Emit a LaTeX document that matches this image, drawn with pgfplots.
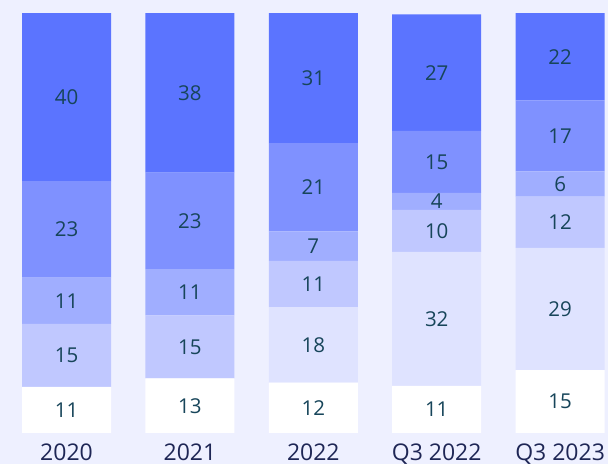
\documentclass[border=0pt]{standalone}
\usepackage{pgfplots}
\usepackage{pgfplotstable}
\pgfplotsset{compat=1.18}
\usepackage{fontspec}
\setmainfont{Open Sans}
\definecolor{bg}{HTML}{EEF0FF}
\definecolor{cA}{HTML}{FFFFFF}
\definecolor{cB}{HTML}{DFE3FF}
\definecolor{cC}{HTML}{C0C8FF}
\definecolor{cD}{HTML}{A0AEFF}
\definecolor{cE}{HTML}{7F91FF}
\definecolor{cF}{HTML}{5B74FF}
\definecolor{valtxt}{HTML}{17455A}
\definecolor{ticktxt}{HTML}{1E2655}
% bar heights (as drawn) and printed labels
\pgfplotstableread{
x a    b    c    d    e    f    la lb lc ld le lf
0 11   0    15   11   23   40   11 0  15 11 23 40
1 13   0    15   11   23   38   13 0  15 11 23 38
2 12   18   11   7    21   31   12 18 11 7  21 31
3 11.2 31.9 10.0 4.05 14.8 27.7 11 32 10 4  15 27
4 15.0 29.1 12.2 6.0  16.9 20.8 15 29 12 6  17 22
}\datatable
\pgfplotstablecreatecol[create col/expr={\thisrow{a}/2}]{ma}\datatable
\pgfplotstablecreatecol[create col/expr={\thisrow{a}+\thisrow{b}/2}]{mb}\datatable
\pgfplotstablecreatecol[create col/expr={\thisrow{a}+\thisrow{b}+\thisrow{c}/2}]{mc}\datatable
\pgfplotstablecreatecol[create col/expr={\thisrow{a}+\thisrow{b}+\thisrow{c}+\thisrow{d}/2}]{md}\datatable
\pgfplotstablecreatecol[create col/expr={\thisrow{a}+\thisrow{b}+\thisrow{c}+\thisrow{d}+\thisrow{e}/2}]{me}\datatable
\pgfplotstablecreatecol[create col/expr={\thisrow{a}+\thisrow{b}+\thisrow{c}+\thisrow{d}+\thisrow{e}+\thisrow{f}/2}]{mf}\datatable
\pgfplotsset{
  common/.style={
    at={(0,31bp)}, anchor=south west,
    scale only axis, width=608bp, height=433bp,
    xmin=-0.539, xmax=4.388, ymin=0, ymax=103.1,
    axis line style={draw=none},
    major tick length=0pt,
    ytick=\empty,
    clip=false,
  },
  lab/.style={draw=none, mark=none, point meta=explicit,
    nodes near coords={\pgfmathfloatifflags{\pgfplotspointmeta}{0}{}{\pgfmathprintnumber{\pgfplotspointmeta}}},
    nodes near coords align=center,
    nodes near coords style={anchor=center, inner sep=0pt, font=\fontsize{20.5bp}{24bp}\selectfont, text=valtxt},
    /pgf/number format/assume math mode=true},
}
\begin{document}
\begin{tikzpicture}
\fill[bg] (0,0) rectangle (608bp,464bp);
\useasboundingbox (0,0) rectangle (608bp,464bp);
\begin{axis}[common,
  ybar stacked, bar width=89bp,
  xtick=data, xticklabels={2020,2021,2022,Q3 2022,Q3 2023},
  xticklabel style={anchor=base, yshift=-28bp, font=\fontsize{23bp}{26bp}\selectfont, text=ticktxt},
]
\addplot[fill=cA, draw=none] table[x=x, y=a] {\datatable};
\addplot[fill=cB, draw=none] table[x=x, y=b] {\datatable};
\addplot[fill=cC, draw=none] table[x=x, y=c] {\datatable};
\addplot[fill=cD, draw=none] table[x=x, y=d] {\datatable};
\addplot[fill=cE, draw=none] table[x=x, y=e] {\datatable};
\addplot[fill=cF, draw=none] table[x=x, y=f] {\datatable};
\end{axis}
\begin{axis}[common, xtick=\empty]
\addplot[lab] table[x=x, y=ma, meta=la] {\datatable};
\addplot[lab] table[x=x, y=mb, meta=lb] {\datatable};
\addplot[lab] table[x=x, y=mc, meta=lc] {\datatable};
\addplot[lab] table[x=x, y=md, meta=ld] {\datatable};
\addplot[lab] table[x=x, y=me, meta=le] {\datatable};
\addplot[lab] table[x=x, y=mf, meta=lf] {\datatable};
\end{axis}
\end{tikzpicture}
\end{document}
